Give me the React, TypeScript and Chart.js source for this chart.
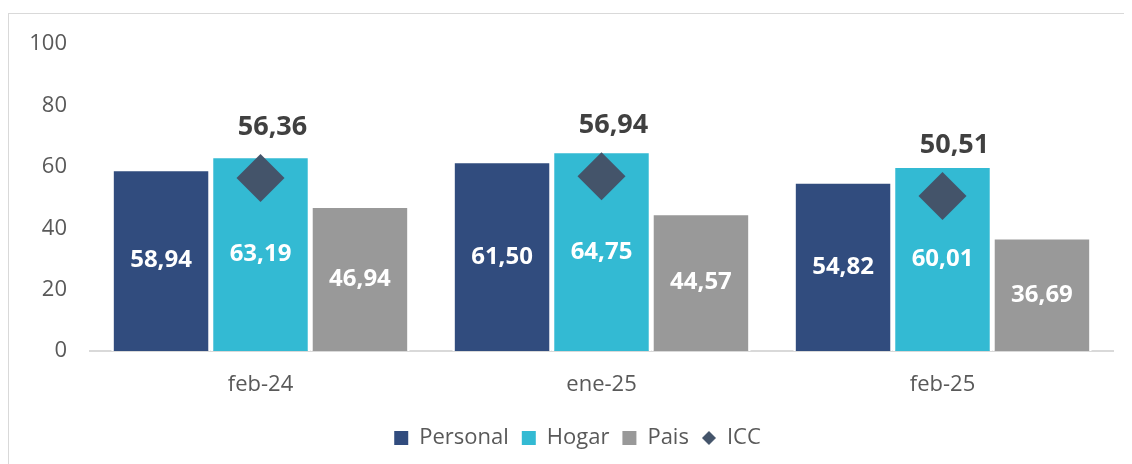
import React, { useEffect, useRef } from 'react';
import { Chart, registerables } from 'chart.js';

Chart.register(...registerables);

const categories = ['feb-24', 'ene-25', 'feb-25'];
const personal = [58.94, 61.5, 54.82];
const hogar = [63.19, 64.75, 60.01];
const pais = [46.94, 44.57, 36.69];
const icc = [56.36, 56.94, 50.51];
const yMin = 0;
const yMax = 100;
const yStep = 20;

const FONT = '"Open Sans", "Noto Sans", sans-serif';
const fmt = (v: number) => v.toFixed(2).replace('.', ',');

const valueLabels = {
  id: 'valueLabels',
  afterDatasetsDraw(chart: any) {
    const ctx = chart.ctx;
    chart.data.datasets.forEach((ds: any, i: number) => {
      const meta = chart.getDatasetMeta(i);
      if (meta.hidden) return;
      meta.data.forEach((el: any, j: number) => {
        const v = ds.data[j] as number;
        ctx.save();
        ctx.textAlign = 'center';
        ctx.textBaseline = 'middle';
        if (ds.type === 'line') {
          ctx.font = `bold 27px ${FONT}`;
          ctx.fillStyle = '#404040';
          ctx.fillText(fmt(v), el.x + 12, el.y - 51);
        } else {
          ctx.font = `bold 24px ${FONT}`;
          ctx.fillStyle = '#ffffff';
          ctx.fillText(fmt(v), el.x, (el.y + el.base) / 2);
        }
        ctx.restore();
      });
    });
  },
};

const legendShift = {
  id: 'legendShift',
  afterLayout(chart: any) {
    const lg = chart.legend;
    if (lg) {
      lg.left += 17;
      lg.right += 17;
    }
  },
};

function makeDiamond(size: number, color: string) {
  const c = document.createElement('canvas');
  c.width = size;
  c.height = size;
  const g = c.getContext('2d')!;
  g.fillStyle = color;
  g.beginPath();
  g.moveTo(size / 2, 0);
  g.lineTo(size, size / 2);
  g.lineTo(size / 2, size);
  g.lineTo(0, size / 2);
  g.closePath();
  g.fill();
  return c;
}

export default function App() {
  const ref = useRef<HTMLCanvasElement>(null);

  useEffect(() => {
    if (!ref.current) return;
    const diamond = makeDiamond(14, '#44546a');
    const barBorder = { top: 1, left: 2.5, right: 2.5, bottom: 0 };
    const chart = new Chart(ref.current, {
      type: 'bar',
      data: {
        labels: categories,
        datasets: [
          {
            type: 'bar',
            label: 'Personal',
            data: personal,
            backgroundColor: '#314c7e',
            borderColor: '#ffffff',
            borderWidth: barBorder,
            categoryPercentage: 0.875,
            barPercentage: 1,
            order: 1,
          },
          {
            type: 'bar',
            label: 'Hogar',
            data: hogar,
            backgroundColor: '#33bad3',
            borderColor: '#ffffff',
            borderWidth: barBorder,
            categoryPercentage: 0.875,
            barPercentage: 1,
            order: 1,
          },
          {
            type: 'bar',
            label: 'Pais',
            data: pais,
            backgroundColor: '#999999',
            borderColor: '#ffffff',
            borderWidth: barBorder,
            categoryPercentage: 0.875,
            barPercentage: 1,
            order: 1,
          },
          {
            type: 'line',
            label: 'ICC',
            data: icc,
            showLine: false,
            pointStyle: 'rectRot',
            pointRadius: 24,
            pointHoverRadius: 24,
            pointBorderWidth: 0,
            backgroundColor: '#44546a',
            pointBackgroundColor: '#44546a',
            borderColor: '#44546a',
            order: 0,
          },
        ] as any,
      },
      options: {
        animation: false,
        responsive: false,
        layout: { autoPadding: false, padding: { top: 31.8, right: 19, left: 0, bottom: 5 } },
        scales: {
          x: {
            grid: { display: false, drawTicks: false },
            border: { display: true, color: '#d9d9d9', width: 2 },
            ticks: { color: '#595959', font: { family: FONT, size: 22 }, padding: 21 },
            afterFit: (s: any) => {
              s.height = 63;
            },
          },
          y: {
            min: yMin,
            max: yMax,
            grid: { display: false, drawTicks: false },
            border: { display: false },
            ticks: {
              stepSize: yStep,
              color: '#595959',
              font: { family: FONT, size: 22 },
              padding: 23,
            },
            afterFit: (s: any) => {
              s.width = 82;
            },
          },
        },
        plugins: {
          tooltip: { enabled: false },
          legend: {
            position: 'bottom',
            labels: {
              usePointStyle: true,
              boxWidth: 14,
              boxHeight: 14,
              padding: 13,
              color: '#595959',
              font: { family: FONT, size: 22 },
              generateLabels: (c: any) => {
                const items = (Chart.defaults.plugins.legend.labels as any).generateLabels(c);
                items.forEach((it: any) => {
                  const ds = c.data.datasets[it.datasetIndex];
                  it.pointStyle = it.datasetIndex === 3 ? diamond : 'rect';
                  it.fillStyle = ds.backgroundColor;
                  it.strokeStyle = 'rgba(0,0,0,0)';
                  it.lineWidth = 0;
                });
                return items.sort((a: any, b: any) => a.datasetIndex - b.datasetIndex);
              },
            },
          },
        },
      },
      plugins: [valueLabels, legendShift],
    } as any);
    return () => chart.destroy();
  }, []);

  return (
    <div style={{ position: 'relative', width: 1124, height: 456, overflow: 'hidden' }}>
      <div
        style={{
          position: 'absolute',
          top: 5,
          left: 0,
          width: 1300,
          height: 600,
          border: '1px solid #d9d9d9',
          boxSizing: 'border-box',
        }}
      />
      <canvas ref={ref} width={1124} height={456} style={{ position: 'absolute', left: 0, top: 0 }} />
    </div>
  );
}
